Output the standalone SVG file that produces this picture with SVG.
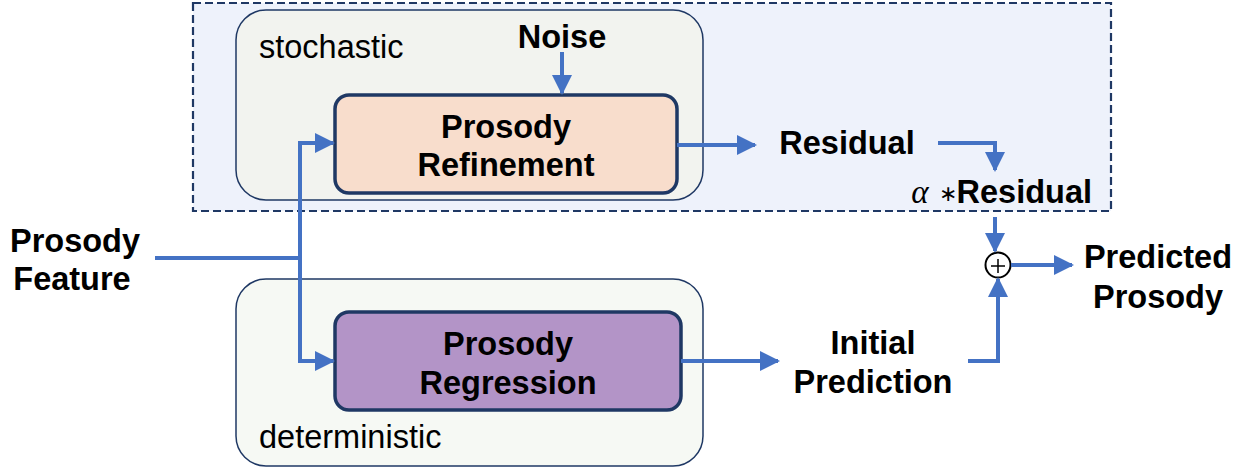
<svg xmlns="http://www.w3.org/2000/svg" width="1245" height="472" viewBox="0 0 1245 472">
<style>
.b{font-family:"Liberation Sans",Arial,sans-serif;font-weight:bold;font-size:32.5px;fill:#000}
.r{font-family:"Liberation Sans",Arial,sans-serif;font-size:32.5px;fill:#000}
.c{fill:none;stroke:#4472C4;stroke-width:4}
.grp{stroke:#1F3864;stroke-width:1.5}
.blk{stroke:#1F3864;stroke-width:3.5}
</style>
<defs>
<marker id="ah" markerWidth="5" markerHeight="5" refX="4.5" refY="2.5" orient="auto" markerUnits="strokeWidth">
<path d="M0,0 L5,2.5 L0,5 Z" fill="#4472C4"/>
</marker>
</defs>
<g id="stochastic-region">
<rect x="193" y="3" width="918" height="208" fill="#EEF2FB" stroke="#1F3864" stroke-width="2.2" stroke-dasharray="8,4"/>
</g>
<g id="stochastic">
<rect class="grp" x="236" y="10" width="467" height="190" rx="30" fill="#F2F3EF"/>
<text class="r" x="259" y="58">stochastic</text>
</g>
<g id="deterministic">
<rect class="grp" x="236" y="279" width="467" height="187" rx="30" fill="#F6F9F4"/>
<text class="r" x="259" y="448">deterministic</text>
</g>
<g id="noise"><text class="b" x="562" y="48" text-anchor="middle">Noise</text></g>
<g id="refinement">
<rect class="blk" x="335" y="95" width="342" height="98" rx="14" fill="#F8DDCC"/>
<text class="b" x="506" y="138" text-anchor="middle">Prosody</text>
<text class="b" x="506" y="176" text-anchor="middle">Refinement</text>
</g>
<g id="regression">
<rect class="blk" x="335" y="312" width="346" height="98" rx="14" fill="#B394C7"/>
<text class="b" x="508" y="355" text-anchor="middle">Prosody</text>
<text class="b" x="508" y="394" text-anchor="middle">Regression</text>
</g>
<g id="prosody-feature">
<text class="b" x="75" y="252" text-anchor="middle">Prosody</text>
<text class="b" x="72" y="290" text-anchor="middle">Feature</text>
</g>
<g id="residual"><text class="b" x="847" y="154" text-anchor="middle">Residual</text></g>
<g id="scaled-residual"><text x="1092" y="203" text-anchor="end" class="b"><tspan font-family="'Liberation Serif',serif" font-style="italic" font-weight="normal" font-size="33">α</tspan><tspan font-weight="normal" font-size="22" dx="10" dy="-2">∗</tspan><tspan dy="2">Residual</tspan></text></g>
<g id="initial-prediction">
<text class="b" x="873" y="354" text-anchor="middle">Initial</text>
<text class="b" x="873" y="393" text-anchor="middle">Prediction</text>
</g>
<g id="sum">
<circle cx="998" cy="265" r="12.5" fill="#fff" stroke="#000" stroke-width="2"/>
<path d="M991,266 H1005 M998,259 V273" stroke="#000" stroke-width="1.5"/>
</g>
<g id="predicted-prosody">
<text class="b" x="1158" y="268" text-anchor="middle">Predicted</text>
<text class="b" x="1158" y="308" text-anchor="middle">Prosody</text>
</g>
<g id="connectors">
<path class="c" d="M562,52 V93" marker-end="url(#ah)"/>
<path class="c" d="M155,258 H300"/>
<path class="c" d="M300,362 V143 H333" marker-end="url(#ah)"/>
<path class="c" d="M300,258 V361 H333" marker-end="url(#ah)"/>
<path class="c" d="M677,145 H755" marker-end="url(#ah)"/>
<path class="c" d="M938,143 H995 V170" marker-end="url(#ah)"/>
<path class="c" d="M995,217 V251" marker-end="url(#ah)"/>
<path class="c" d="M1011,265 H1072" marker-end="url(#ah)"/>
<path class="c" d="M681,361 H778" marker-end="url(#ah)"/>
<path class="c" d="M968,361 H998 V279" marker-end="url(#ah)"/>
</g>
</svg>
